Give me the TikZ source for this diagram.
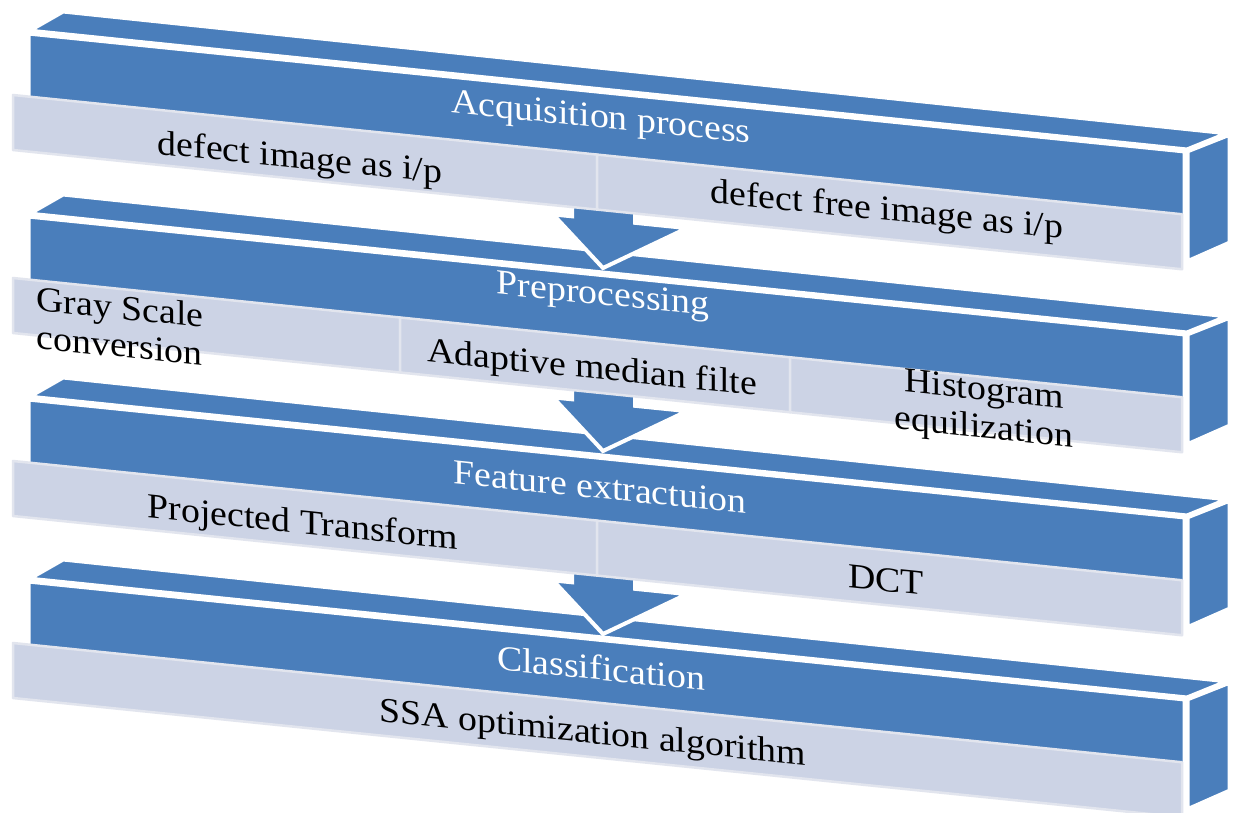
\documentclass[tikz,border=0pt]{standalone}
\usepackage{fontspec}
\setmainfont{Liberation Serif}
\definecolor{bl}{RGB}{74,126,187}
\definecolor{lt}{RGB}{204,211,229}
\definecolor{lte}{RGB}{226,229,238}
\tikzset{
 face/.style={fill=bl, draw=white, line width=5pt, line join=round},
 cell/.style={fill=lt, draw=lte, line width=2.5pt, line join=round},
 arr/.style={fill=bl, draw=white, line width=4pt, line join=miter},
 txt/.style={font=\fontsize{35}{38}\selectfont, cm={1.08,-0.1102,0,1,(0,0)}, inner sep=0pt, align=center},
 wtxt/.style={txt, text=white},
 btxt/.style={txt, text=black},
}
\newcommand{\blk}{%
 \path[face] (28,31) -- (1187,150) -- (1229,133) -- (63,11) -- cycle;
 \path[face] (28,33) -- (1185,151) -- (1185,262) -- (28,144) -- cycle;
 \path[face] (1187,151) -- (1230,134) -- (1230,243) -- (1187,262) -- cycle;
}
\newcommand{\cellq}[2]{%
 \path[cell] (#1,{95+0.102*(#1-13)}) -- (#2,{95+0.102*(#2-13)}) -- (#2,{150+0.102*(#2-13)}) -- (#1,{150+0.102*(#1-13)}) -- cycle;
}
\newcommand{\arrowshape}{%
 \path[arr] (572,188.3) -- (572,216.3) -- (553,214.4) -- (603,268) -- (687,228.1) -- (635,222.8) -- (635,194.8) -- cycle;
}
\begin{document}
\begin{tikzpicture}[x=1pt,y=-1pt]
\useasboundingbox (0,0) rectangle (1236,812);
\fill[white] (0,0) rectangle (1236,812);
% layer 4
\begin{scope}[shift={(0,548)}]
 \blk \cellq{13}{1182}
\end{scope}
\begin{scope}[shift={(0,366)}]
 \arrowshape
 \blk \cellq{13}{597} \cellq{597}{1182}
\end{scope}
\begin{scope}[shift={(0,183)}]
 \arrowshape
 \blk \cellq{13}{400} \cellq{400}{790} \cellq{790}{1182}
\end{scope}
\begin{scope}
 \arrowshape
 \blk \cellq{13}{597} \cellq{597}{1182}
\end{scope}
% texts
\node[wtxt] (acq) at (601,120) {Acquisition process};
\node[btxt] (d1) at (300,160) {defect image as i/p};
\node[btxt] (d2) at (887,212) {defect free image as i/p};
\node[wtxt] (pre) at (603,297) {Preprocessing};
\node[btxt, align=left] (gs) at (120,326) {Gray Scale\\conversion};
\node[btxt] (amf) at (592,370) {Adaptive median filte};
\node[btxt] (he) at (984,411) {Histogram\\equilization};
\node[wtxt] (fe) at (600,487) {Feature extractuion};
\node[btxt] (pt) at (303,525) {Projected Transform};
\node[btxt] (dct) at (886,580) {DCT};
\node[wtxt] (cls) at (601,668) {Classification};
\node[btxt] (ssa) at (593,735) {SSA optimization algorithm};
\end{tikzpicture}
\end{document}
